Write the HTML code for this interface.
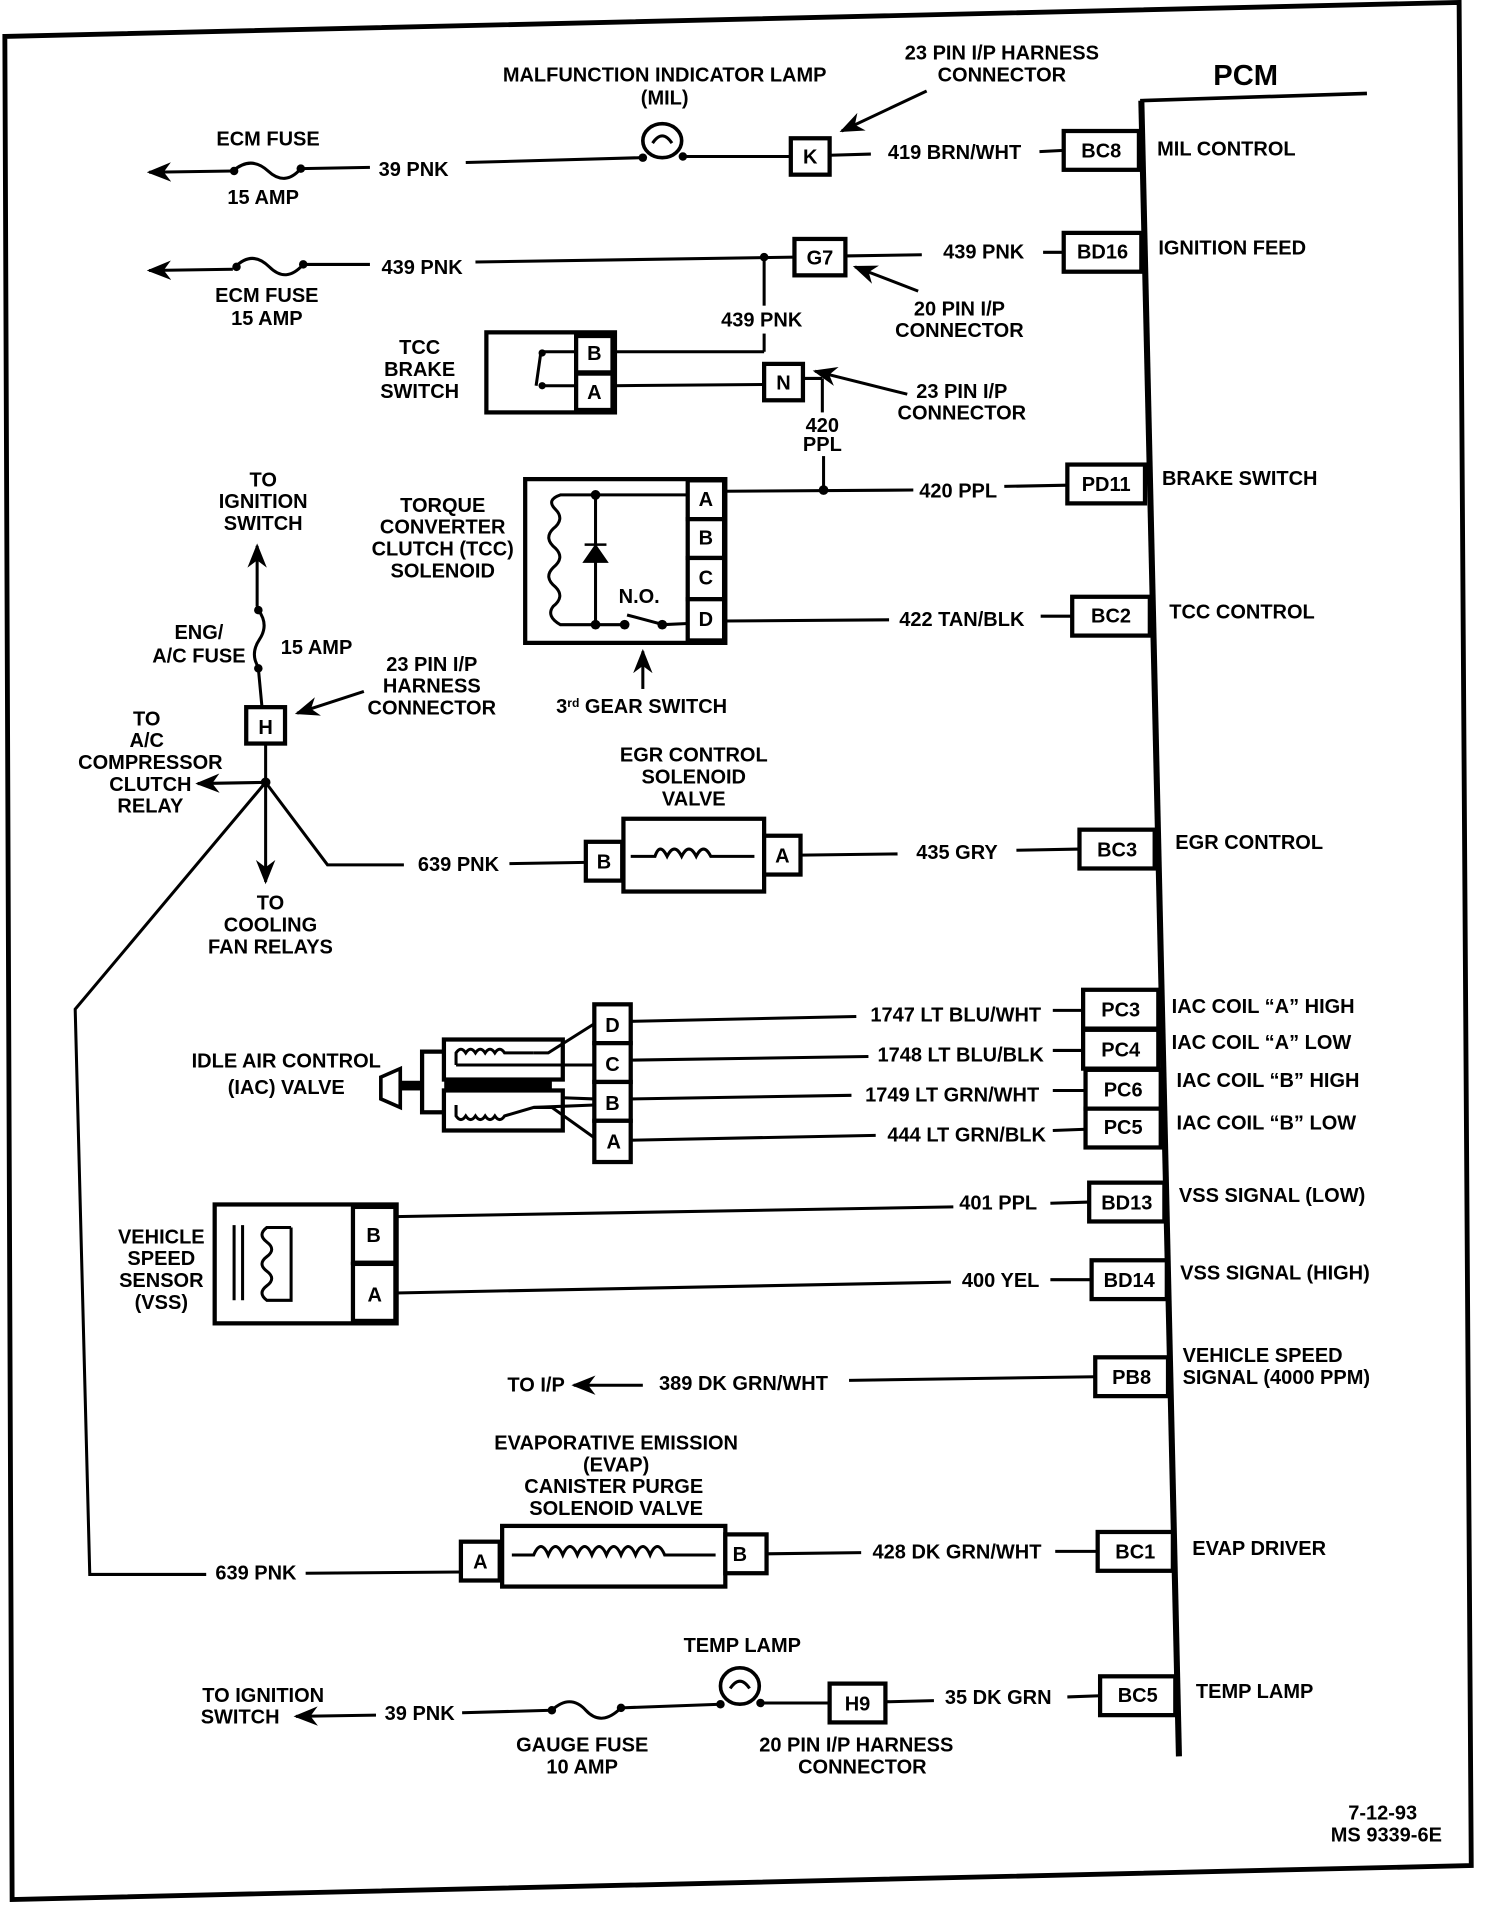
<!DOCTYPE html>
<html><head><meta charset="utf-8"><style>
html,body{margin:0;padding:0;background:#fff;}
svg{display:block;}
text{font-family:"Liberation Sans","DejaVu Sans",sans-serif;font-weight:bold;font-size:16.5px;fill:#000;}
.c{text-anchor:middle;}
.w{fill:none;stroke:#000;stroke-width:2.5;}
.b{fill:#fff;stroke:#000;stroke-width:3.5;}
.t{fill:none;stroke:#000;stroke-width:3;}
</style></head><body>
<svg width="1504" height="1908" viewBox="0 0 1240 1573" preserveAspectRatio="none" xmlns="http://www.w3.org/2000/svg">
<defs><marker id="ar" viewBox="0 0 10 10" refX="9" refY="5" markerWidth="8" markerHeight="8" orient="auto-start-reverse"><path d="M0,1 L10,5 L0,9 L3,5 Z" fill="#000"/></marker></defs>
<path d="M4,30 L1203,2 L1213,1538 L10,1566 Z" fill="none" stroke="#000" stroke-width="4"/>
<text x="1027" y="70" class="c" style="font-size:24px">PCM</text>
<path d="M940,83 L1127,77" class="t"/>
<path d="M941,83 L972,1448" stroke="#000" stroke-width="5" fill="none"/>

<text x="548" y="67" class="c">MALFUNCTION INDICATOR LAMP</text>
<text x="548" y="86" class="c">(MIL)</text>
<text x="826" y="49" class="c">23 PIN I/P HARNESS</text>
<text x="826" y="67" class="c">CONNECTOR</text>
<line x1="764" y1="75" x2="694" y2="108" class="w" marker-end="url(#ar)"/>
<text x="221" y="120" class="c">ECM FUSE</text>
<text x="217" y="168" class="c">15 AMP</text>
<line x1="192" y1="141" x2="123" y2="142" class="w" marker-end="url(#ar)"/>
<path d="M192,141 Q207,128 221,141 T248,139" class="w"/>
<circle cx="193" cy="141" r="3.5"/><circle cx="248" cy="139" r="3.5"/>
<line x1="248" y1="139" x2="305" y2="138" class="w"/>
<text x="341" y="145" class="c">39 PNK</text>
<line x1="384" y1="134" x2="528" y2="130" class="w"/>
<ellipse cx="546" cy="116" rx="16" ry="14" class="b" style="stroke-width:3"/>
<path d="M538,118 q8,-12 16,0" class="w"/>
<circle cx="530" cy="130" r="3.5"/><circle cx="563" cy="129" r="3.5"/>
<line x1="563" y1="129" x2="652" y2="129" class="w"/>
<rect x="652" y="114" width="32" height="30" class="b"/><text x="668" y="135" class="c">K</text>
<line x1="684" y1="128" x2="718" y2="127" class="w"/>
<text x="787" y="131" class="c">419 BRN/WHT</text>
<line x1="857" y1="125" x2="877" y2="124" class="w"/>
<rect x="877" y="108" width="62" height="32" class="b"/><text x="908" y="130" class="c">BC8</text>
<text x="954" y="128">MIL CONTROL</text>

<line x1="192" y1="222" x2="123" y2="223" class="w" marker-end="url(#ar)"/>
<path d="M194,220 Q208,206 222,220 T250,218" class="w"/>
<circle cx="195" cy="220" r="3.5"/><circle cx="250" cy="218" r="3.5"/>
<line x1="250" y1="218" x2="305" y2="218" class="w"/>
<text x="220" y="249" class="c">ECM FUSE</text>
<text x="220" y="268" class="c">15 AMP</text>
<text x="348" y="226" class="c">439 PNK</text>
<line x1="392" y1="216" x2="655" y2="212" class="w"/>
<circle cx="630" cy="212" r="3.5"/>
<line x1="630" y1="212" x2="630" y2="252" class="w"/>
<rect x="655" y="197" width="42" height="30" class="b"/><text x="676" y="218" class="c">G7</text>
<line x1="697" y1="211" x2="760" y2="210" class="w"/>
<text x="811" y="213" class="c">439 PNK</text>
<line x1="860" y1="208" x2="877" y2="208" class="w"/>
<rect x="877" y="192" width="64" height="32" class="b"/><text x="909" y="213" class="c">BD16</text>
<text x="955" y="210">IGNITION FEED</text>
<line x1="757" y1="240" x2="705" y2="220" class="w" marker-end="url(#ar)"/>
<text x="791" y="260" class="c">20 PIN I/P</text>
<text x="791" y="278" class="c">CONNECTOR</text>
<text x="628" y="269" class="c">439 PNK</text>
<line x1="630" y1="275" x2="630" y2="290" class="w"/>

<text x="346" y="292" class="c">TCC</text>
<text x="346" y="310" class="c">BRAKE</text>
<text x="346" y="328" class="c">SWITCH</text>
<rect x="401" y="274" width="106" height="66" class="b"/>
<rect x="475" y="277" width="30" height="30" class="b"/><text x="490" y="297" class="c">B</text>
<rect x="475" y="308" width="30" height="30" class="b"/><text x="490" y="329" class="c">A</text>
<path d="M475,290 L446,290 M446,290 L442,318 M446,318 L475,318" class="w"/>
<circle cx="447" cy="291" r="3"/><circle cx="447" cy="318" r="3"/>
<line x1="505" y1="290" x2="630" y2="290" class="w"/>
<line x1="505" y1="318" x2="630" y2="317" class="w"/>
<rect x="630" y="300" width="32" height="30" class="b"/><text x="646" y="321" class="c">N</text>
<line x1="662" y1="312" x2="678" y2="312" class="w"/>
<line x1="678" y1="312" x2="678" y2="340" class="w"/>
<line x1="748" y1="325" x2="672" y2="306" class="w" marker-end="url(#ar)"/>
<text x="793" y="328" class="c">23 PIN I/P</text>
<text x="793" y="346" class="c">CONNECTOR</text>
<text x="678" y="356" class="c">420</text>
<text x="678" y="372" class="c">PPL</text>
<line x1="679" y1="376" x2="679" y2="404" class="w"/>

<text x="217" y="401" class="c">TO</text>
<text x="217" y="419" class="c">IGNITION</text>
<text x="217" y="437" class="c">SWITCH</text>
<text x="365" y="422" class="c">TORQUE</text>
<text x="365" y="440" class="c">CONVERTER</text>
<text x="365" y="458" class="c">CLUTCH (TCC)</text>
<text x="365" y="476" class="c">SOLENOID</text>
<rect x="433" y="395" width="165" height="135" class="b"/>
<rect x="567" y="396" width="30" height="32" class="b"/><text x="582" y="417" class="c">A</text>
<rect x="567" y="428" width="30" height="32" class="b"/><text x="582" y="449" class="c">B</text>
<rect x="567" y="460" width="30" height="34" class="b"/><text x="582" y="482" class="c">C</text>
<rect x="567" y="494" width="30" height="34" class="b"/><text x="582" y="516" class="c">D</text>
<path d="M567,408 L462,408 Q450,412 458,420 Q466,428 456,436 Q448,444 458,452 Q466,460 456,468 Q448,476 458,484 Q466,492 456,500 Q450,508 462,515 L518,515" class="w"/>
<line x1="491" y1="408" x2="491" y2="515" class="w"/>
<path d="M482,463 L500,463 L491,450 Z M482,449 L500,449" fill="#000" stroke="#000" stroke-width="2"/>
<circle cx="491" cy="408" r="4"/><circle cx="491" cy="515" r="4"/><circle cx="515" cy="515" r="4"/><circle cx="546" cy="515" r="4"/>
<line x1="517" y1="507" x2="547" y2="515" class="w"/>
<line x1="546" y1="515" x2="567" y2="514" class="w"/>
<text x="527" y="497" class="c">N.O.</text>
<line x1="597" y1="405" x2="753" y2="404" class="w"/>
<circle cx="679" cy="404" r="4"/>
<text x="790" y="410" class="c">420 PPL</text>
<line x1="828" y1="401" x2="880" y2="400" class="w"/>
<rect x="880" y="383" width="64" height="32" class="b"/><text x="912" y="405" class="c">PD11</text>
<text x="958" y="400">BRAKE SWITCH</text>
<line x1="597" y1="512" x2="733" y2="511" class="w"/>
<text x="793" y="516" class="c">422 TAN/BLK</text>
<line x1="858" y1="508" x2="884" y2="508" class="w"/>
<rect x="884" y="492" width="64" height="32" class="b"/><text x="916" y="513" class="c">BC2</text>
<text x="964" y="510">TCC CONTROL</text>
<line x1="530" y1="568" x2="530" y2="537" class="w" marker-end="url(#ar)"/>
<text x="529" y="588" class="c">3<tspan dy="-5" style="font-size:10px">rd</tspan><tspan dy="5"> GEAR SWITCH</tspan></text>

<line x1="212" y1="500" x2="212" y2="450" class="w" marker-end="url(#ar)"/>
<path d="M213,503 Q222,515 214,527 Q206,539 213,550" class="w"/>
<circle cx="213" cy="503" r="3.5"/><circle cx="213" cy="551" r="3.5"/>
<text x="164" y="527" class="c">ENG/</text>
<text x="164" y="546" class="c">A/C FUSE</text>
<text x="261" y="539" class="c">15 AMP</text>
<line x1="213" y1="551" x2="216" y2="583" class="w"/>
<rect x="203" y="583" width="32" height="30" class="b"/><text x="219" y="605" class="c">H</text>
<line x1="300" y1="570" x2="245" y2="588" class="w" marker-end="url(#ar)"/>
<text x="356" y="553" class="c">23 PIN I/P</text>
<text x="356" y="571" class="c">HARNESS</text>
<text x="356" y="589" class="c">CONNECTOR</text>
<line x1="219" y1="613" x2="219" y2="645" class="w"/>
<circle cx="219" cy="645" r="4"/>
<line x1="219" y1="645" x2="163" y2="646" class="w" marker-end="url(#ar)"/>
<text x="121" y="598" class="c">TO</text>
<text x="121" y="616" class="c">A/C</text>
<text x="124" y="634" class="c">COMPRESSOR</text>
<text x="124" y="652" class="c">CLUTCH</text>
<text x="124" y="670" class="c">RELAY</text>
<line x1="219" y1="645" x2="219" y2="727" class="w" marker-end="url(#ar)"/>
<text x="223" y="750" class="c">TO</text>
<text x="223" y="768" class="c">COOLING</text>
<text x="223" y="786" class="c">FAN RELAYS</text>
<path d="M219,645 L270,713 L333,713" class="w"/>
<path d="M219,645 L62,832 L74,1298 L170,1298" class="w"/>

<text x="572" y="628" class="c">EGR CONTROL</text>
<text x="572" y="646" class="c">SOLENOID</text>
<text x="572" y="664" class="c">VALVE</text>
<text x="378" y="718" class="c">639 PNK</text>
<line x1="420" y1="712" x2="483" y2="711" class="w"/>
<rect x="483" y="694" width="30" height="32" class="b"/><text x="498" y="716" class="c">B</text>
<rect x="514" y="675" width="116" height="60" class="b"/>
<path d="M520,706 L540,706 Q544,694 550,706 Q556,694 562,706 Q568,694 574,706 Q580,694 586,706 L622,706" class="w"/>
<rect x="630" y="689" width="30" height="32" class="b"/><text x="645" y="711" class="c">A</text>
<line x1="660" y1="705" x2="740" y2="704" class="w"/>
<text x="789" y="708" class="c">435 GRY</text>
<line x1="838" y1="701" x2="890" y2="700" class="w"/>
<rect x="890" y="684" width="62" height="32" class="b"/><text x="921" y="706" class="c">BC3</text>
<text x="969" y="700">EGR CONTROL</text>

<text x="236" y="880" class="c">IDLE AIR CONTROL</text>
<text x="236" y="902" class="c">(IAC) VALVE</text>
<path d="M314,888 L330,881 L330,913 L314,906 Z" class="b" style="stroke-width:3"/>
<rect x="330" y="891" width="125" height="8" fill="#000"/>
<rect x="348" y="867" width="20" height="50" class="b"/>
<rect x="366" y="857" width="98" height="33" class="b"/>
<rect x="366" y="899" width="98" height="33" class="b"/>
<path d="M376,878 L376,868 Q380,862 384,868 Q388,862 392,868 Q396,862 400,868 Q404,862 408,868 Q412,862 416,868 L440,868 M376,878 L490,878" class="w"/>
<path d="M376,911 L376,920 Q380,926 384,920 Q388,926 392,920 Q396,926 400,920 Q404,926 408,920 Q412,926 416,920 L440,913 L490,911" class="w"/>
<path d="M440,868 L452,868 L490,844" class="w"/>
<path d="M440,913 L455,913 L490,938" class="w"/>
<line x1="464" y1="905" x2="490" y2="906" class="w"/>
<rect x="490" y="828" width="30" height="32" class="b"/><text x="505" y="851" class="c">D</text>
<rect x="490" y="860" width="30" height="32" class="b"/><text x="505" y="883" class="c">C</text>
<rect x="490" y="892" width="30" height="32" class="b"/><text x="505" y="915" class="c">B</text>
<rect x="490" y="924" width="30" height="34" class="b"/><text x="506" y="947" class="c">A</text>
<line x1="520" y1="842" x2="706" y2="838" class="w"/>
<line x1="520" y1="874" x2="716" y2="871" class="w"/>
<line x1="520" y1="906" x2="702" y2="903" class="w"/>
<line x1="520" y1="940" x2="722" y2="936" class="w"/>
<text x="788" y="842" class="c">1747 LT BLU/WHT</text>
<text x="792" y="875" class="c">1748 LT BLU/BLK</text>
<text x="785" y="908" class="c">1749 LT GRN/WHT</text>
<text x="797" y="941" class="c">444 LT GRN/BLK</text>
<line x1="868" y1="833" x2="893" y2="833" class="w"/>
<line x1="868" y1="866" x2="893" y2="866" class="w"/>
<line x1="868" y1="899" x2="895" y2="899" class="w"/>
<line x1="868" y1="932" x2="895" y2="931" class="w"/>
<rect x="893" y="816" width="62" height="32" class="b"/><text x="924" y="838" class="c">PC3</text>
<rect x="893" y="849" width="62" height="32" class="b"/><text x="924" y="871" class="c">PC4</text>
<rect x="895" y="882" width="62" height="32" class="b"/><text x="926" y="904" class="c">PC6</text>
<rect x="895" y="914" width="62" height="32" class="b"/><text x="926" y="935" class="c">PC5</text>
<text x="966" y="835">IAC COIL “A” HIGH</text>
<text x="966" y="865">IAC COIL “A” LOW</text>
<text x="970" y="896">IAC COIL “B” HIGH</text>
<text x="970" y="931">IAC COIL “B” LOW</text>

<text x="133" y="1025" class="c">VEHICLE</text>
<text x="133" y="1043" class="c">SPEED</text>
<text x="133" y="1061" class="c">SENSOR</text>
<text x="133" y="1079" class="c">(VSS)</text>
<rect x="177" y="993" width="150" height="98" class="b"/>
<rect x="291" y="995" width="35" height="46" class="b"/><text x="308" y="1024" class="c">B</text>
<rect x="291" y="1042" width="35" height="47" class="b"/><text x="309" y="1073" class="c">A</text>
<path d="M193,1010 L193,1072 M200,1010 L200,1072" class="w"/>
<path d="M240,1012 L220,1012 Q212,1018 220,1024 Q228,1030 220,1036 Q212,1042 220,1048 Q228,1054 220,1060 Q212,1066 220,1072 L240,1072 L240,1012" class="w"/>
<line x1="326" y1="1003" x2="786" y2="995" class="w"/>
<text x="823" y="997" class="c">401 PPL</text>
<line x1="866" y1="992" x2="898" y2="991" class="w"/>
<rect x="898" y="975" width="62" height="32" class="b"/><text x="929" y="997" class="c">BD13</text>
<text x="972" y="991">VSS SIGNAL (LOW)</text>
<line x1="326" y1="1066" x2="784" y2="1057" class="w"/>
<text x="825" y="1061" class="c">400 YEL</text>
<line x1="866" y1="1055" x2="900" y2="1055" class="w"/>
<rect x="900" y="1039" width="62" height="32" class="b"/><text x="931" y="1061" class="c">BD14</text>
<text x="973" y="1055">VSS SIGNAL (HIGH)</text>

<text x="442" y="1147" class="c">TO I/P</text>
<line x1="530" y1="1142" x2="473" y2="1142" class="w" marker-end="url(#ar)"/>
<text x="613" y="1146" class="c">389 DK GRN/WHT</text>
<line x1="700" y1="1138" x2="903" y2="1135" class="w"/>
<rect x="903" y="1119" width="60" height="32" class="b"/><text x="933" y="1141" class="c">PB8</text>
<text x="975" y="1123">VEHICLE SPEED</text>
<text x="975" y="1141">SIGNAL (4000 PPM)</text>

<text x="508" y="1195" class="c">EVAPORATIVE EMISSION</text>
<text x="508" y="1213" class="c">(EVAP)</text>
<text x="506" y="1231" class="c">CANISTER PURGE</text>
<text x="508" y="1249" class="c">SOLENOID VALVE</text>
<text x="211" y="1302" class="c">639 PNK</text>
<line x1="252" y1="1297" x2="380" y2="1296" class="w"/>
<rect x="380" y="1271" width="32" height="32" class="b"/><text x="396" y="1293" class="c">A</text>
<rect x="414" y="1258" width="184" height="50" class="b"/>
<rect x="598" y="1265" width="34" height="32" class="b"/><text x="610" y="1287" class="c">B</text>
<path d="M422,1282 L440,1282 Q446,1268 452,1282 Q458,1268 464,1282 Q470,1268 476,1282 Q482,1268 488,1282 Q494,1268 500,1282 Q506,1268 512,1282 Q518,1268 524,1282 Q530,1268 536,1282 Q542,1268 548,1282 L590,1282" class="w"/>
<line x1="632" y1="1281" x2="710" y2="1280" class="w"/>
<text x="789" y="1285" class="c">428 DK GRN/WHT</text>
<line x1="870" y1="1279" x2="905" y2="1279" class="w"/>
<rect x="905" y="1263" width="62" height="32" class="b"/><text x="936" y="1285" class="c">BC1</text>
<text x="983" y="1282">EVAP DRIVER</text>

<text x="612" y="1362" class="c">TEMP LAMP</text>
<text x="217" y="1403" class="c">TO IGNITION</text>
<text x="198" y="1421" class="c">SWITCH</text>
<line x1="310" y1="1414" x2="244" y2="1415" class="w" marker-end="url(#ar)"/>
<text x="346" y="1418" class="c">39 PNK</text>
<line x1="381" y1="1412" x2="455" y2="1410" class="w"/>
<path d="M455,1410 Q470,1396 483,1410 T512,1408" class="w"/>
<circle cx="455" cy="1410" r="3.5"/><circle cx="512" cy="1408" r="3.5"/>
<line x1="512" y1="1408" x2="594" y2="1405" class="w"/>
<ellipse cx="610" cy="1390" rx="16" ry="15" class="b" style="stroke-width:3"/>
<path d="M602,1392 q8,-12 16,0" class="w"/>
<circle cx="594" cy="1405" r="3.5"/><circle cx="627" cy="1404" r="3.5"/>
<line x1="627" y1="1404" x2="684" y2="1404" class="w"/>
<rect x="684" y="1388" width="46" height="32" class="b"/><text x="707" y="1410" class="c">H9</text>
<line x1="730" y1="1403" x2="770" y2="1402" class="w"/>
<text x="823" y="1405" class="c">35 DK GRN</text>
<line x1="880" y1="1399" x2="907" y2="1398" class="w"/>
<rect x="907" y="1382" width="62" height="32" class="b"/><text x="938" y="1403" class="c">BC5</text>
<text x="986" y="1400">TEMP LAMP</text>
<text x="480" y="1444" class="c">GAUGE FUSE</text>
<text x="480" y="1462" class="c">10 AMP</text>
<text x="706" y="1444" class="c">20 PIN I/P HARNESS</text>
<text x="711" y="1462" class="c">CONNECTOR</text>

<text x="1140" y="1500" class="c">7-12-93</text>
<text x="1143" y="1518" class="c">MS 9339-6E</text>
</svg>
</body></html>
